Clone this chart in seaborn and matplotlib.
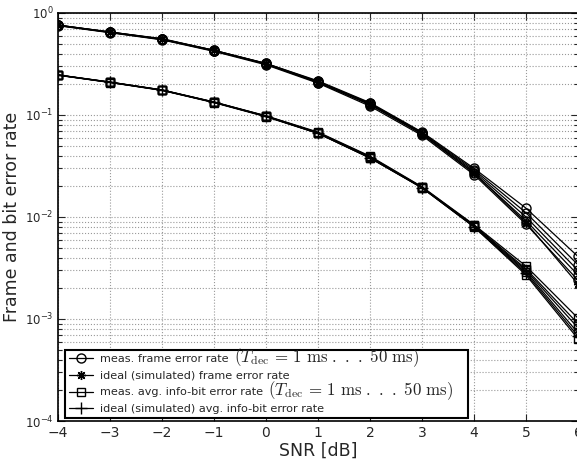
import numpy as np
import pandas as pd
import matplotlib
matplotlib.use('Agg')
import matplotlib.pyplot as plt
from matplotlib.transforms import IdentityTransform
import seaborn as sns

# SNR points
snr = [-4, -3, -2, -1, 0, 1, 2, 3, 4, 5, 6]

# measured frame error rate, one curve per decoding time (1 ms ... 50 ms)
fer_meas = [
    [0.76, 0.65, 0.560, 0.430, 0.320, 0.216, 0.132, 0.068, 0.0300, 0.0122, 0.0041],
    [0.76, 0.65, 0.555, 0.430, 0.320, 0.213, 0.130, 0.067, 0.0290, 0.0110, 0.0034],
    [0.755, 0.645, 0.550, 0.425, 0.316, 0.210, 0.128, 0.066, 0.0280, 0.0100, 0.0030],
    [0.755, 0.645, 0.550, 0.425, 0.315, 0.208, 0.126, 0.065, 0.0270, 0.0092, 0.0027],
    [0.75, 0.64, 0.545, 0.420, 0.310, 0.205, 0.122, 0.063, 0.0260, 0.0085, 0.0024],
]
# ideal (simulated) frame error rate
fer_ideal = [0.76, 0.65, 0.555, 0.43, 0.318, 0.21, 0.127, 0.065, 0.027, 0.0088, 0.0022]

# measured average info-bit error rate
ber_meas = [
    [0.247, 0.210, 0.176, 0.134, 0.098, 0.068, 0.0395, 0.0198, 0.0084, 0.0033, 0.00102],
    [0.247, 0.210, 0.176, 0.134, 0.098, 0.067, 0.0390, 0.0196, 0.0083, 0.0031, 0.00090],
    [0.246, 0.209, 0.175, 0.133, 0.097, 0.067, 0.0385, 0.0195, 0.0082, 0.0030, 0.00082],
    [0.246, 0.209, 0.175, 0.133, 0.097, 0.066, 0.0380, 0.0194, 0.0081, 0.0029, 0.00073],
    [0.245, 0.208, 0.174, 0.132, 0.096, 0.066, 0.0378, 0.0193, 0.0080, 0.0027, 0.00064],
]
# ideal (simulated) average info-bit error rate
ber_ideal = [0.246, 0.209, 0.175, 0.133, 0.097, 0.066, 0.038, 0.0193, 0.0080, 0.0028, 0.00068]

labels = [
    'meas. frame error rate',
    'ideal (simulated) frame error rate',
    'meas. avg. info-bit error rate',
    'ideal (simulated) avg. info-bit error rate',
]
tdec_note = r'$(T_{\mathrm{dec}}\,=\,1\ \mathrm{ms}\ .\ .\ .\ 50\ \mathrm{ms})$'

sns.set_style('ticks')
plt.rcParams['font.family'] = ['DejaVu Sans']
plt.rcParams['mathtext.fontset'] = 'cm'

fig = plt.figure(figsize=(5.77, 4.62), dpi=100)
ax = fig.add_axes([0.1005, 0.0887, 0.9012, 0.8833])

def draw(vals, marker, label, ms, lw=0.9):
    sns.lineplot(x=snr, y=vals, ax=ax, color='k', lw=lw, marker=marker,
                 markersize=ms, markerfacecolor='none', markeredgecolor='k',
                 markeredgewidth=1.0, label=label, legend=False)

for i, v in enumerate(fer_meas):
    draw(v, 'o', labels[0] if i == 0 else None, 6.5)
draw(fer_ideal, (8, 2, 0), labels[1], 6.5)
for i, v in enumerate(ber_meas):
    draw(v, 's', labels[2] if i == 0 else None, 5.5)
draw(ber_ideal, '+', labels[3], 8)

ax.set_yscale('log')
ax.set_xlim(-4, 6)
ax.set_ylim(1e-4, 1)
ax.set_xticks(range(-4, 7))
ax.set_xticklabels(['\u2212%d' % -t if t < 0 else str(t) for t in range(-4, 7)])
ax.grid(True, which='major', axis='x', linestyle=':', color='#999999', lw=0.8)
ax.grid(True, which='both', axis='y', linestyle=':', color='#999999', lw=0.8)
ax.tick_params(which='both', direction='in', top=True, right=True, width=0.8)
ax.tick_params(axis='x', labelsize=10)
ax.tick_params(axis='y', labelsize=8.5, pad=3)
ax.tick_params(which='major', length=5)
ax.tick_params(which='minor', length=3)
for s in ax.spines.values():
    s.set_linewidth(1.2)
    s.set_color('k')

ax.set_xlabel('SNR [dB]', fontsize=12.5, labelpad=1)
ax.set_ylabel('Frame and bit error rate', fontsize=12.5, labelpad=3)

h, l = ax.get_legend_handles_labels()
leg = ax.legend(h, l, loc='lower left', bbox_to_anchor=(0.013, 0.007, 0.776, 0.17),
                mode='expand', fontsize=8.1, handlelength=2.2,
                frameon=True, fancybox=False, edgecolor='k', framealpha=1,
                borderaxespad=0.0, labelspacing=0.6, borderpad=0.35, handletextpad=0.6)
leg.get_frame().set_linewidth(1.5)

# the T_dec note is typeset larger than the legend text, so place it after the label
fig.canvas.draw()
renderer = fig.canvas.get_renderer()
for idx in (0, 2):
    t = leg.get_texts()[idx]
    bb = t.get_window_extent(renderer)
    _, _, d = renderer.get_text_width_height_descent('lp', t.get_fontproperties(), ismath=False)
    fig.text(bb.x1 + 5, bb.y0 + d, tdec_note, fontsize=12.2, ha='left', va='baseline',
             transform=IdentityTransform(), zorder=10)

fig.savefig('out.png', dpi=100)
